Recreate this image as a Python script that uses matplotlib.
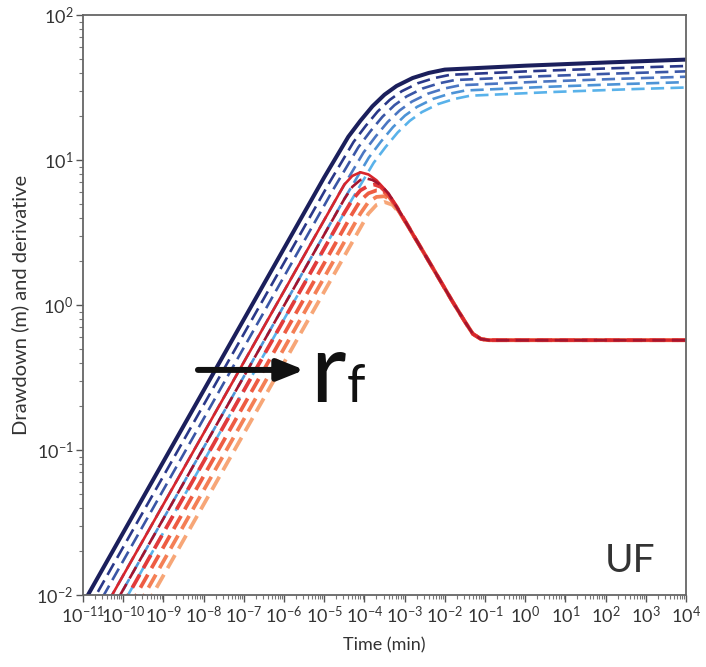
import numpy as np
import matplotlib.pyplot as plt
from matplotlib.ticker import LogLocator, NullFormatter

plt.rcParams['font.family'] = ['Lato', 'DejaVu Sans']
plt.rcParams['mathtext.fontset'] = 'custom'
plt.rcParams['mathtext.rm'] = 'Lato'
plt.rcParams['mathtext.it'] = 'Lato:italic'
plt.rcParams['mathtext.bf'] = 'Lato:bold'

# drawdown, smallest fracture radius (solid) -- log10(t), log10(s)
dd_logt = [-11.0, -5.0, -4.7, -4.4, -4.1, -3.8, -3.5, -3.2, -2.8, -2.4, -2.0, 0.0, 2.0, 4.0]
dd_logs = [-2.06, 0.88, 1.02, 1.16, 1.27, 1.37, 1.45, 1.51, 1.565, 1.600, 1.623, 1.650, 1.672, 1.692]

# drawdown for increasing r_f (dashed)
dd_dash_logt = [
    [-10.87, -4.87, -4.57, -4.27, -3.97, -3.67, -3.37, -3.07, -2.67, -2.27, -1.87, 0.13, 2.13, 4.13],
    [-10.75, -4.75, -4.45, -4.15, -3.85, -3.55, -3.25, -2.95, -2.55, -2.15, -1.75, 0.25, 2.25, 4.25],
    [-10.62, -4.62, -4.32, -4.02, -3.72, -3.42, -3.12, -2.82, -2.42, -2.02, -1.62, 0.38, 2.38, 4.38],
    [-10.49, -4.49, -4.19, -3.89, -3.59, -3.29, -2.99, -2.69, -2.29, -1.89, -1.49, 0.51, 2.51, 4.51],
    [-10.37, -4.37, -4.07, -3.77, -3.47, -3.17, -2.87, -2.57, -2.17, -1.77, -1.37, 0.63, 2.63, 4.63],
]
dd_dash_logs = [
    [-2.096, 0.844, 0.984, 1.124, 1.234, 1.334, 1.414, 1.474, 1.529, 1.564, 1.587, 1.612, 1.632, 1.649],
    [-2.132, 0.808, 0.948, 1.088, 1.198, 1.298, 1.378, 1.438, 1.493, 1.528, 1.551, 1.576, 1.596, 1.613],
    [-2.168, 0.772, 0.912, 1.052, 1.162, 1.262, 1.342, 1.402, 1.457, 1.492, 1.515, 1.540, 1.560, 1.577],
    [-2.204, 0.736, 0.876, 1.016, 1.126, 1.226, 1.306, 1.366, 1.421, 1.456, 1.479, 1.504, 1.524, 1.541],
    [-2.240, 0.700, 0.840, 0.980, 1.090, 1.190, 1.270, 1.330, 1.385, 1.420, 1.443, 1.468, 1.488, 1.505],
]
dd_dash_colors = ['#2a3889', '#3a56a6', '#4b76c2', '#4d93d6', '#59b2ea']

# derivative, smallest fracture radius (solid)
der_logt = [-11.0, -5.0, -4.7, -4.5, -4.3, -4.1, -3.9, -3.7, -3.5, -3.3, -2.5, -1.8, -1.5, -1.3, -1.1, -0.9, 4.0]
der_logs = [-2.355, 0.585, 0.732, 0.83, 0.89, 0.915, 0.90, 0.86, 0.80, 0.725, 0.35, 0.02, -0.115, -0.20, -0.235, -0.243, -0.243]

# derivative for increasing r_f (dashed)
der_dash_logt = [
    [-10.8, -4.5, -4.3, -4.1, -3.95, -3.8, -3.6, -3.4, -3.3, -2.5, -1.8, -1.5, -1.3, -1.1, -0.9, 4.0],
    [-10.6, -4.5, -4.3, -4.1, -3.9, -3.75, -3.6, -3.4, -3.2, -2.5, -1.8, -1.5, -1.3, -1.1, -0.9, 4.0],
    [-10.4, -4.3, -4.1, -3.9, -3.7, -3.55, -3.4, -3.2, -2.5, -1.8, -1.5, -1.3, -1.1, -0.9, 4.0],
    [-10.2, -4.1, -3.9, -3.7, -3.5, -3.35, -3.2, -3.0, -2.5, -1.8, -1.5, -1.3, -1.1, -0.9, 4.0],
    [-10.0, -3.9, -3.7, -3.5, -3.3, -3.1, -2.9, -2.5, -1.8, -1.5, -1.3, -1.1, -0.9, 4.0],
]
der_dash_logs = [
    [-2.355, 0.73, 0.815, 0.862, 0.872, 0.862, 0.828, 0.77, 0.725, 0.35, 0.02, -0.115, -0.20, -0.235, -0.243, -0.243],
    [-2.355, 0.634, 0.725, 0.79, 0.822, 0.83, 0.815, 0.76, 0.68, 0.35, 0.02, -0.115, -0.20, -0.235, -0.243, -0.243],
    [-2.355, 0.63, 0.72, 0.77, 0.79, 0.79, 0.75, 0.675, 0.35, 0.02, -0.115, -0.20, -0.235, -0.243, -0.243],
    [-2.355, 0.63, 0.71, 0.745, 0.75, 0.725, 0.67, 0.585, 0.35, 0.02, -0.115, -0.20, -0.235, -0.243, -0.243],
    [-2.355, 0.63, 0.69, 0.71, 0.69, 0.625, 0.535, 0.35, 0.02, -0.115, -0.20, -0.235, -0.243, -0.243],
]
der_dash_colors = ['#b3183c', '#e23b3b', '#ee5c42', '#f47f55', '#f7a677']

fig = plt.figure(figsize=(7.06, 6.67), dpi=100)
ax = fig.add_axes([0.1176, 0.108, 0.854, 0.8696])

dash = (5, 2.4)

# drawdown family
for lt, ls, c in reversed(list(zip(dd_dash_logt, dd_dash_logs, dd_dash_colors))):
    ax.plot(10.0 ** np.array(lt), 10.0 ** np.array(ls), color=c, lw=1.9, dashes=dash)
ax.plot(10.0 ** np.array(dd_logt), 10.0 ** np.array(dd_logs), color='#1b1f5c', lw=2.9)

# derivative family: light dashes underneath give the pale band around the red line
for lt, ls, c in reversed(list(zip(der_dash_logt[1:], der_dash_logs[1:], der_dash_colors[1:]))):
    ax.plot(10.0 ** np.array(lt), 10.0 ** np.array(ls), color=c, lw=2.7, dashes=(4, 2))
ax.plot(10.0 ** np.array(der_logt), 10.0 ** np.array(der_logs), color='#d8262c', lw=1.9)
ax.plot(10.0 ** np.array(der_dash_logt[0]), 10.0 ** np.array(der_dash_logs[0]),
        color='#a3152f', lw=1.9, dashes=dash)

ax.set_xscale('log')
ax.set_yscale('log')
ax.set_xlim(1e-11, 1e4)
ax.set_ylim(1e-2, 1e2)
ax.set_xticks([10.0 ** k for k in range(-11, 5)])
ax.set_yticks([10.0 ** k for k in range(-2, 3)])
ax.xaxis.set_minor_locator(LogLocator(base=10, subs=np.arange(2, 10), numticks=100))
ax.yaxis.set_minor_locator(LogLocator(base=10, subs=np.arange(2, 10), numticks=100))
ax.xaxis.set_minor_formatter(NullFormatter())
ax.yaxis.set_minor_formatter(NullFormatter())
ax.tick_params(which='major', direction='out', length=5, width=1, color='#555555',
               labelsize=13, labelcolor='#333333', pad=2)
ax.tick_params(which='minor', direction='out', length=3, width=0.8, color='#777777')
for sp in ax.spines.values():
    sp.set_color('#666666')
    sp.set_linewidth(1.3)

ax.set_xlabel('Time (min)', fontsize=13, color='#333333', labelpad=8)
ax.set_ylabel('Drawdown (m) and derivative', fontsize=14.5, color='#333333', labelpad=5)

ax.annotate('', xy=(0.372, 0.388), xytext=(0.186, 0.388), xycoords='axes fraction',
            arrowprops=dict(arrowstyle='-|>,head_length=0.8,head_width=0.32',
                            lw=4.3, color='#111111', mutation_scale=20))
ax.text(0.377, 0.333, 'r', transform=ax.transAxes, fontsize=70,
        color='#111111', va='baseline', ha='left')
ax.text(0.437, 0.333, 'f', transform=ax.transAxes, fontsize=38,
        color='#111111', va='baseline', ha='left')
ax.text(0.866, 0.040, 'UF', transform=ax.transAxes, fontsize=28,
        color='#333333', va='baseline', ha='left')

fig.savefig('out.png', dpi=100)
